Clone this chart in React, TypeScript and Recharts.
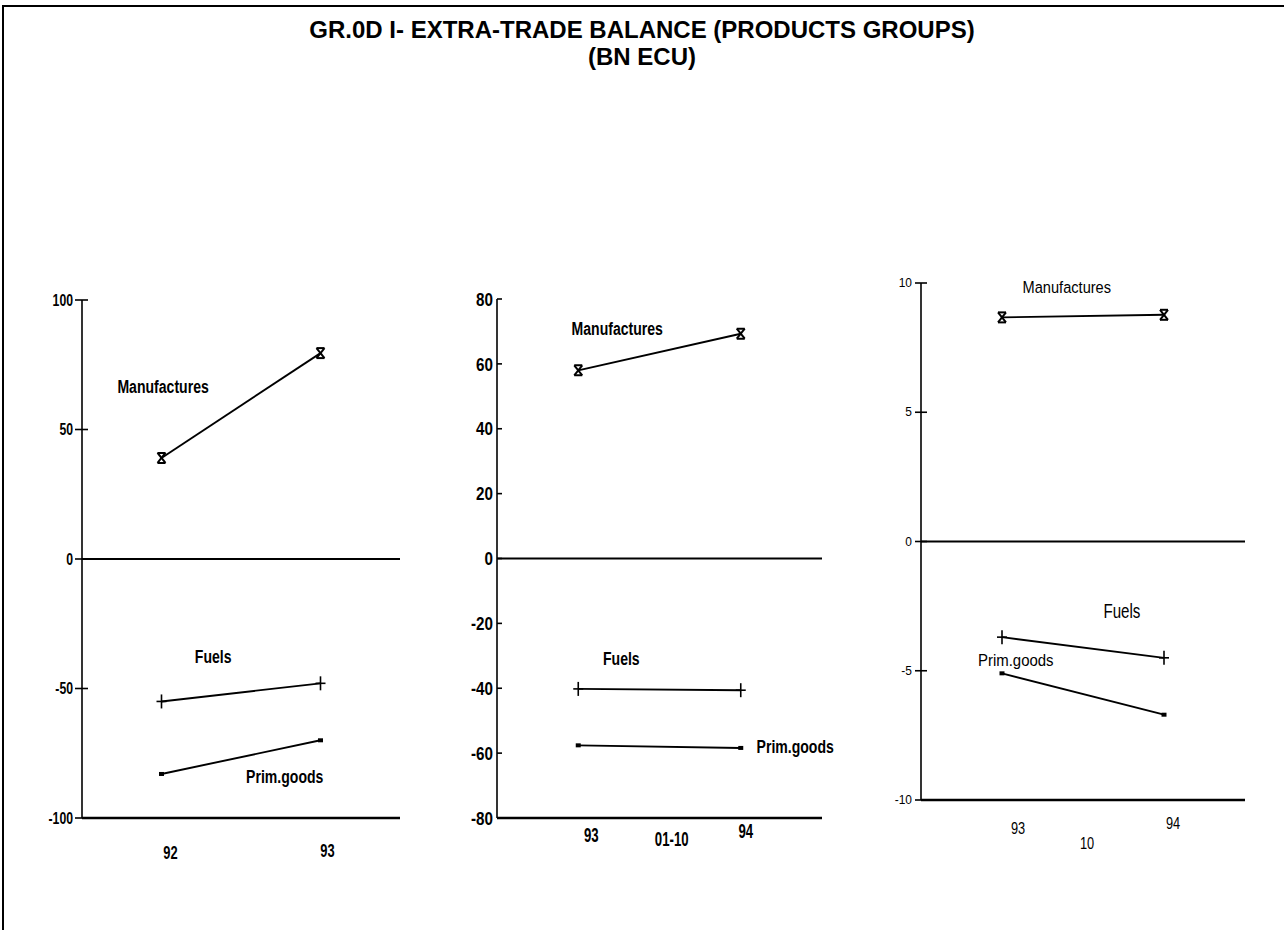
import { LineChart, Line, XAxis, YAxis, ReferenceLine, ReferenceDot } from "recharts"

// panel 1: 92-93, full year
const p1Categories = ["92", "93"]
const p1Manufactures = [39, 79.5]
const p1Fuels = [-55, -48]
const p1PrimGoods = [-83, -70]
const p1Ticks = [-100, -50, 0, 50, 100]

// panel 2: 93-94, months 01-10
const p2Categories = ["93", "94"]
const p2Manufactures = [58, 69.3]
const p2Fuels = [-40.2, -40.6]
const p2PrimGoods = [-57.6, -58.4]
const p2Ticks = [-80, -60, -40, -20, 0, 20, 40, 60, 80]

// panel 3: 93-94, month 10
const p3Categories = ["93", "94"]
const p3Manufactures = [8.67, 8.77]
const p3Fuels = [-3.7, -4.5]
const p3PrimGoods = [-5.1, -6.7]
const p3Ticks = [-10, -5, 0, 5, 10]

const FONT = "'Liberation Sans', Arial, sans-serif"

type TextStyle = { size: number; weight: string; sx: number }
type Annotation = { text: string; x: number; y: number; style?: TextStyle }

type PanelProps = {
  categories: string[]
  manufactures: number[]
  fuels: number[]
  primGoods: number[]
  ticks: number[]
  period?: string
  axisX: number
  plotRight: number
  plotTop: number
  plotBottom: number
  tickOut: number
  tickIn: number
  tickGap: number
  yTickStyle: TextStyle
  xTickStyle: TextStyle
  annStyle: TextStyle
  labelDy: number[]
  labelDx: number[]
  periodDx: number
  periodDy: number
  annotations: Annotation[]
}

// condensed text, the source uses a narrow Helvetica
function NarrowText(props: {
  x: number
  y: number
  style: TextStyle
  anchor: "start" | "middle" | "end"
  children: any
}) {
  const { style } = props
  return (
    <text
      transform={`translate(${props.x},${props.y}) scale(${style.sx},1)`}
      textAnchor={props.anchor}
      dominantBaseline="central"
      fontFamily={FONT}
      fontWeight={style.weight}
      fontSize={style.size}
      fill="#000"
    >
      {props.children}
    </text>
  )
}

const StarDot = (props: any) => {
  const { cx, cy } = props
  if (cx == null || cy == null) return null
  return (
    <g stroke="#000" strokeWidth={2} fill="none">
      <line x1={cx - 4} y1={cy - 5} x2={cx + 4} y2={cy - 5} />
      <line x1={cx - 4} y1={cy + 5} x2={cx + 4} y2={cy + 5} />
      <line x1={cx - 4} y1={cy - 5} x2={cx + 4} y2={cy + 5} />
      <line x1={cx + 4} y1={cy - 5} x2={cx - 4} y2={cy + 5} />
    </g>
  )
}

const PlusDot = (props: any) => {
  const { cx, cy } = props
  if (cx == null || cy == null) return null
  return (
    <g stroke="#000" strokeWidth={1.6}>
      <line x1={cx} y1={cy - 7} x2={cx} y2={cy + 7} />
      <line x1={cx - 5} y1={cy} x2={cx + 5} y2={cy} />
    </g>
  )
}

const SmallDot = (props: any) => {
  const { cx, cy } = props
  if (cx == null || cy == null) return null
  return <rect x={cx - 2.5} y={cy - 2} width={5} height={4} fill="#000" />
}

function Panel(p: PanelProps) {
  const data = p.categories.map((c, i) => ({
    x: i * 2 + 1,
    cat: c,
    manufactures: p.manufactures[i],
    fuels: p.fuels[i],
    primGoods: p.primGoods[i],
  }))
  const yAxisW = 62
  const ml = 10
  const mt = 20
  const mr = 20
  const xAxisH = 60
  const mb = 10
  const width = p.plotRight - p.axisX + yAxisW + ml + mr
  const height = p.plotBottom - p.plotTop + mt + xAxisH + mb
  const domain: [number, number] = [p.ticks[0], p.ticks[p.ticks.length - 1]]
  const axisLocal = ml + yAxisW

  const renderXTick = (props: any) => {
    const { x, y, index, payload } = props
    const label = p.categories[index] ?? p.categories[(payload.value - 1) / 2]
    return (
      <NarrowText
        x={x + (p.labelDx[index] ?? 0)}
        y={y + (p.labelDy[index] ?? 0)}
        style={p.xTickStyle}
        anchor="middle"
      >
        {label}
      </NarrowText>
    )
  }

  // ticks cross the axis in the source, so the tick line is drawn here
  const renderYTick = (props: any) => {
    const { y, payload } = props
    return (
      <g>
        <line
          x1={axisLocal - p.tickOut}
          x2={axisLocal + p.tickIn}
          y1={y}
          y2={y}
          stroke="#000"
          strokeWidth={1.6}
        />
        <NarrowText x={axisLocal - p.tickGap} y={y} style={p.yTickStyle} anchor="end">
          {payload.value}
        </NarrowText>
      </g>
    )
  }

  return (
    <div
      style={{
        position: "absolute",
        left: p.axisX - yAxisW - ml,
        top: p.plotTop - mt,
        width,
        height,
      }}
    >
      <LineChart
        width={width}
        height={height}
        data={data}
        margin={{ top: mt, right: mr, bottom: mb, left: ml }}
      >
        <XAxis
          dataKey="x"
          type="number"
          domain={[0, 4]}
          ticks={[1, 3]}
          tickLine={false}
          axisLine={{ stroke: "#000", strokeWidth: 2.5 }}
          tick={renderXTick}
          height={xAxisH}
          interval={0}
        />
        <YAxis
          type="number"
          domain={domain}
          ticks={p.ticks}
          interval={0}
          width={yAxisW}
          allowDataOverflow
          tickLine={false}
          axisLine={{ stroke: "#000", strokeWidth: 1.6 }}
          tick={renderYTick}
        />
        <ReferenceLine y={0} stroke="#000" strokeWidth={2} />
        <Line
          dataKey="manufactures"
          stroke="#000"
          strokeWidth={1.9}
          dot={<StarDot />}
          isAnimationActive={false}
        />
        <Line
          dataKey="fuels"
          stroke="#000"
          strokeWidth={1.9}
          dot={<PlusDot />}
          isAnimationActive={false}
        />
        <Line
          dataKey="primGoods"
          stroke="#000"
          strokeWidth={1.9}
          dot={<SmallDot />}
          isAnimationActive={false}
        />
        {p.annotations.map((a) => (
          <ReferenceDot
            key={a.text}
            x={a.x}
            y={a.y}
            r={0}
            ifOverflow="visible"
            shape={(s: any) => (
              <NarrowText x={s.cx} y={s.cy} style={a.style ?? p.annStyle} anchor="middle">
                {a.text}
              </NarrowText>
            )}
          />
        ))}
        {p.period ? (
          <ReferenceDot
            x={2 + p.periodDx}
            y={domain[0]}
            r={0}
            ifOverflow="visible"
            shape={(s: any) => (
              <NarrowText x={s.cx} y={s.cy + p.periodDy} style={p.xTickStyle} anchor="middle">
                {p.period}
              </NarrowText>
            )}
          />
        ) : null}
      </LineChart>
    </div>
  )
}

export default function App() {
  return (
    <div
      style={{
        position: "absolute",
        left: 0,
        top: 0,
        width: 1284,
        height: 930,
        background: "#fff",
        overflow: "hidden",
      }}
    >
      <div
        style={{
          position: "absolute",
          left: 2,
          top: 5,
          width: 1282,
          height: 925,
          borderTop: "2px solid #000",
          borderLeft: "2px solid #000",
        }}
      />
      <div
        style={{
          position: "absolute",
          left: 0,
          top: 16,
          width: 1284,
          textAlign: "center",
          fontFamily: FONT,
          fontWeight: "bold",
          fontSize: 24,
          lineHeight: "27px",
          color: "#000",
        }}
      >
        <div>GR.0D I- EXTRA-TRADE BALANCE (PRODUCTS GROUPS)</div>
        <div>(BN ECU)</div>
      </div>

      <Panel
        categories={p1Categories}
        manufactures={p1Manufactures}
        fuels={p1Fuels}
        primGoods={p1PrimGoods}
        ticks={p1Ticks}
        axisX={82}
        plotRight={400}
        plotTop={300}
        plotBottom={818}
        tickOut={7}
        tickIn={6}
        tickGap={9}
        yTickStyle={{ size: 17, weight: "bold", sx: 0.72 }}
        xTickStyle={{ size: 19, weight: "bold", sx: 0.68 }}
        annStyle={{ size: 19, weight: "bold", sx: 0.74 }}
        labelDy={[26, 24]}
        labelDx={[9, 7]}
        periodDx={0}
        periodDy={0}
        annotations={[
          { text: "Manufactures", x: 1.02, y: 66.4 },
          { text: "Fuels", x: 1.65, y: -37.8 },
          { text: "Prim.goods", x: 2.55, y: -84.2 },
        ]}
      />
      <Panel
        categories={p2Categories}
        manufactures={p2Manufactures}
        fuels={p2Fuels}
        primGoods={p2PrimGoods}
        ticks={p2Ticks}
        period="01-10"
        axisX={497}
        plotRight={822}
        plotTop={299}
        plotBottom={818}
        tickOut={0}
        tickIn={5}
        tickGap={4}
        yTickStyle={{ size: 19, weight: "bold", sx: 0.8 }}
        xTickStyle={{ size: 20, weight: "bold", sx: 0.66 }}
        annStyle={{ size: 19, weight: "bold", sx: 0.74 }}
        labelDy={[10, 6]}
        labelDx={[13, 5]}
        periodDx={0.15}
        periodDy={22}
        annotations={[
          { text: "Manufactures", x: 1.48, y: 70.9 },
          { text: "Fuels", x: 1.53, y: -30.8 },
          { text: "Prim.goods", x: 3.67, y: -58 },
        ]}
      />
      <Panel
        categories={p3Categories}
        manufactures={p3Manufactures}
        fuels={p3Fuels}
        primGoods={p3PrimGoods}
        ticks={p3Ticks}
        period="10"
        axisX={921}
        plotRight={1245}
        plotTop={283}
        plotBottom={800}
        tickOut={6}
        tickIn={6}
        tickGap={9}
        yTickStyle={{ size: 13, weight: "normal", sx: 0.92 }}
        xTickStyle={{ size: 16, weight: "normal", sx: 0.8 }}
        annStyle={{ size: 17, weight: "normal", sx: 0.86 }}
        labelDy={[20, 15]}
        labelDx={[16, 9]}
        periodDx={0.05}
        periodDy={43}
        annotations={[
          { text: "Manufactures", x: 1.8, y: 9.83 },
          { text: "Fuels", x: 2.48, y: -2.67, style: { size: 21, weight: "normal", sx: 0.72 } },
          { text: "Prim.goods", x: 1.17, y: -4.6, style: { size: 17, weight: "normal", sx: 0.88 } },
        ]}
      />
    </div>
  )
}
